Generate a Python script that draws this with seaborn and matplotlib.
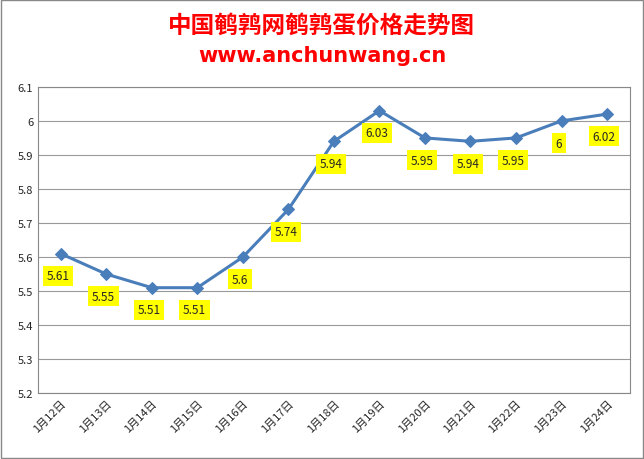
import matplotlib
matplotlib.use("Agg")
import matplotlib.pyplot as plt
import seaborn as sns
import pandas as pd

dates = ["1月12日","1月13日","1月14日","1月15日","1月16日","1月17日","1月18日","1月19日","1月20日","1月21日","1月22日","1月23日","1月24日"]
prices = [5.61,5.55,5.51,5.51,5.6,5.74,5.94,6.03,5.95,5.94,5.95,6.0,6.02]
labels = ["5.61","5.55","5.51","5.51","5.6","5.74","5.94","6.03","5.95","5.94","5.95","6","6.02"]

sns.set_style("white")
plt.rcParams['font.family'] = ['Noto Sans CJK SC', 'DejaVu Sans']
df = pd.DataFrame({"d": range(len(dates)), "p": prices})

fig = plt.figure(figsize=(6.44, 4.6), dpi=100)
fig.patches.append(plt.Rectangle((0.002,0.002),0.996,0.996,transform=fig.transFigure,fill=False,edgecolor="#888888",lw=1))
ax = fig.add_axes([0.059, 0.143, 0.919, 0.666])
sns.lineplot(data=df, x="d", y="p", ax=ax, color="#4a7ebb", lw=2.2, marker="D", markersize=6, markeredgecolor="#4a7ebb")
for i, (v, t) in enumerate(zip(prices, labels)):
    ax.annotate(t, (i, v), xytext=(-2, -16), textcoords="offset points", ha="center", va="center",
                fontsize=8.5, bbox=dict(boxstyle="square,pad=0.3", fc="#ffff00", ec="none"))
ax.set_ylim(5.2, 6.1)
ax.set_yticks([5.2,5.3,5.4,5.5,5.6,5.7,5.8,5.9,6.0,6.1])
ax.set_yticklabels(["5.2","5.3","5.4","5.5","5.6","5.7","5.8","5.9","6","6.1"], fontsize=8)
ax.set_xlim(-0.5, len(dates)-0.5)
ax.set_xticks(range(len(dates)))
ax.set_xticklabels(dates, rotation=45, ha="right", rotation_mode="anchor", fontsize=8)
ax.grid(axis="y", color="#999999", lw=0.8)
ax.set_xlabel(""); ax.set_ylabel("")
for s in ax.spines.values():
    s.set_color("#888888")
ax.tick_params(length=0)
fig.text(0.5, 0.945, "中国鹌鹑网鹌鹑蛋价格走势图", ha="center", va="center", color="#ff0000", fontsize=17, fontweight="bold")
fig.text(0.5, 0.878, "www.anchunwang.cn", ha="center", va="center", color="#ff0000", fontsize=15, fontweight="bold", family="DejaVu Sans")
fig.savefig("out.png", dpi=100)
